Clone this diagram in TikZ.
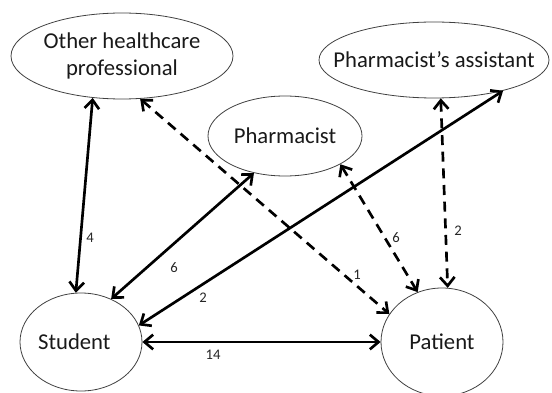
\documentclass[tikz,border=0pt]{standalone}
\usepackage{fontspec}
\setmainfont{Carlito}
\usepackage{tikz}
\usetikzlibrary{shapes}
\usetikzlibrary{arrows.meta}
\tikzset{every picture/.style={line width=0.75pt}}
\tikzset{
  role/.style={ellipse, draw=black!75, line width=0.6pt, inner sep=0pt},
  every label/.style={font=\fontsize{17}{20}\selectfont, text=black!90, align=center},
  num/.style={font=\fontsize{11}{13}\selectfont, text=black!85, inner sep=0.75pt},
  link/.style={line width=2pt, {Straight Barb[length=6.5pt,width=11pt]}-{Straight Barb[length=6.5pt,width=11pt]}},
  hint/.style={link, dash pattern=on 7.5pt off 5pt}
}

\begin{document}
\begin{tikzpicture}[x=0.75pt,y=0.75pt,yscale=-1,xscale=1]
\useasboundingbox (0,0) rectangle (552,392);

%Shape: Ellipse
\node [role, minimum width=166.5pt, minimum height=64.5pt, label={center:Other healthcare\\professional}] (other) at (122,56) {};
%Shape: Ellipse
\node [role, minimum width=172.5pt, minimum height=57pt, label={center:Pharmacist’s assistant}] (assist) at (434,60) {};
%Shape: Ellipse
\node [role, minimum width=115.5pt, minimum height=60pt, label={center:Pharmacist}] (pharm) at (285,136) {};
%Shape: Ellipse
\node [role, minimum width=91.5pt, minimum height=73.5pt, label={[xshift=-5pt]center:Student}] (student) at (81,342) {};
%Shape: Ellipse
\node [role, minimum width=91.5pt, minimum height=81pt, label={center:Patient}] (patient) at (442,342) {};

%Straight Lines
\draw [link] (other.-125) -- (student.96);
\draw [link] (student.55) -- (pharm.-130);
\draw [link] (student.16) -- (assist.-24);
\draw [link] (student.east) -- (patient.west);
%Dashed Lines
\draw [hint] (other.-67) -- (patient.152);
\draw [hint] (pharm.-27) -- (patient.116);
\draw [hint] (assist.-80) -- (patient.84);

% Text Node
\node [num] (n4) at (90,238) {4};
% Text Node
\node [num] (n6a) at (174,268) {6};
% Text Node
\node [num] (n2a) at (203,298) {2};
% Text Node
\node [num] (n14) at (213,355) {14};
% Text Node
\node [num] (n1) at (357,275) {1};
% Text Node
\node [num] (n6b) at (396,238) {6};
% Text Node
\node [num] (n2b) at (458,231) {2};

\end{tikzpicture}
\end{document}
